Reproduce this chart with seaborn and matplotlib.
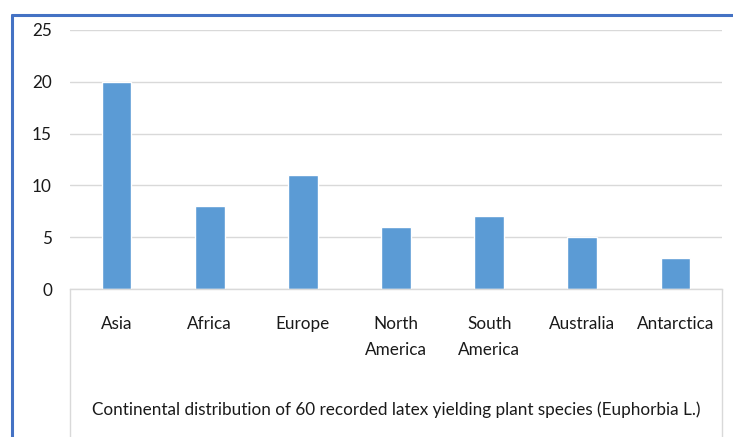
import numpy as np
import pandas as pd
import matplotlib.pyplot as plt
import seaborn as sns
from matplotlib.lines import Line2D

continents = ["Asia", "Africa", "Europe", "North\nAmerica", "South\nAmerica", "Australia", "Antarctica"]
species = [20, 8, 11, 6, 7, 5, 3]
yticks = [0, 5, 10, 15, 20, 25]
title = "Continental distribution of 60 recorded latex yielding plant species (Euphorbia L.)"

df = pd.DataFrame({"Continent": continents, "Species": species})

sns.set_style("white")
plt.rcParams["font.family"] = ["Lato", "DejaVu Sans"]

W, H = 733, 437
fig = plt.figure(figsize=(W / 100, H / 100), dpi=100)
ax = fig.add_axes([70 / W, (H - 289) / H, 652 / W, (289 - 30) / H])

sns.barplot(data=df, x="Continent", y="Species", color="#5B9BD5", width=0.32,
            saturation=1, ax=ax)

ax.set_ylim(0, 25)
ax.set_yticks(yticks)
ax.set_xlim(-0.5, len(continents) - 0.5)
ax.set_xlabel("")
ax.set_ylabel("")
ax.grid(axis="y", color="#D9D9D9", linewidth=1)
ax.set_axisbelow(True)
for s in ["top", "right", "left"]:
    ax.spines[s].set_visible(False)
ax.spines["bottom"].set_color("#D9D9D9")
ax.spines["bottom"].set_linewidth(1)
ax.tick_params(axis="y", length=0, pad=13, labelsize=12.3, labelcolor="#1a1a1a")
ax.tick_params(axis="x", length=0, pad=19.5, labelsize=12.3, labelcolor="#1a1a1a")
for t in ax.get_xticklabels():
    t.set_linespacing(1.8)

# gray box under the axis
for xp in [70, 722]:
    fig.add_artist(Line2D([xp / W, xp / W], [0, (H - 289) / H], color="#D9D9D9", lw=1))

# blue frame
fig.add_artist(Line2D([12 / W, 12 / W], [0, (H - 15) / H], color="#4472C4", lw=2.2))
fig.add_artist(Line2D([12 / W, 1], [(H - 15) / H, (H - 15) / H], color="#4472C4", lw=2.2))

fig.text(396 / W, (H - 410) / H, title, ha="center", va="center", fontsize=12.3, color="#1a1a1a")

fig.savefig("out.png", dpi=100)
